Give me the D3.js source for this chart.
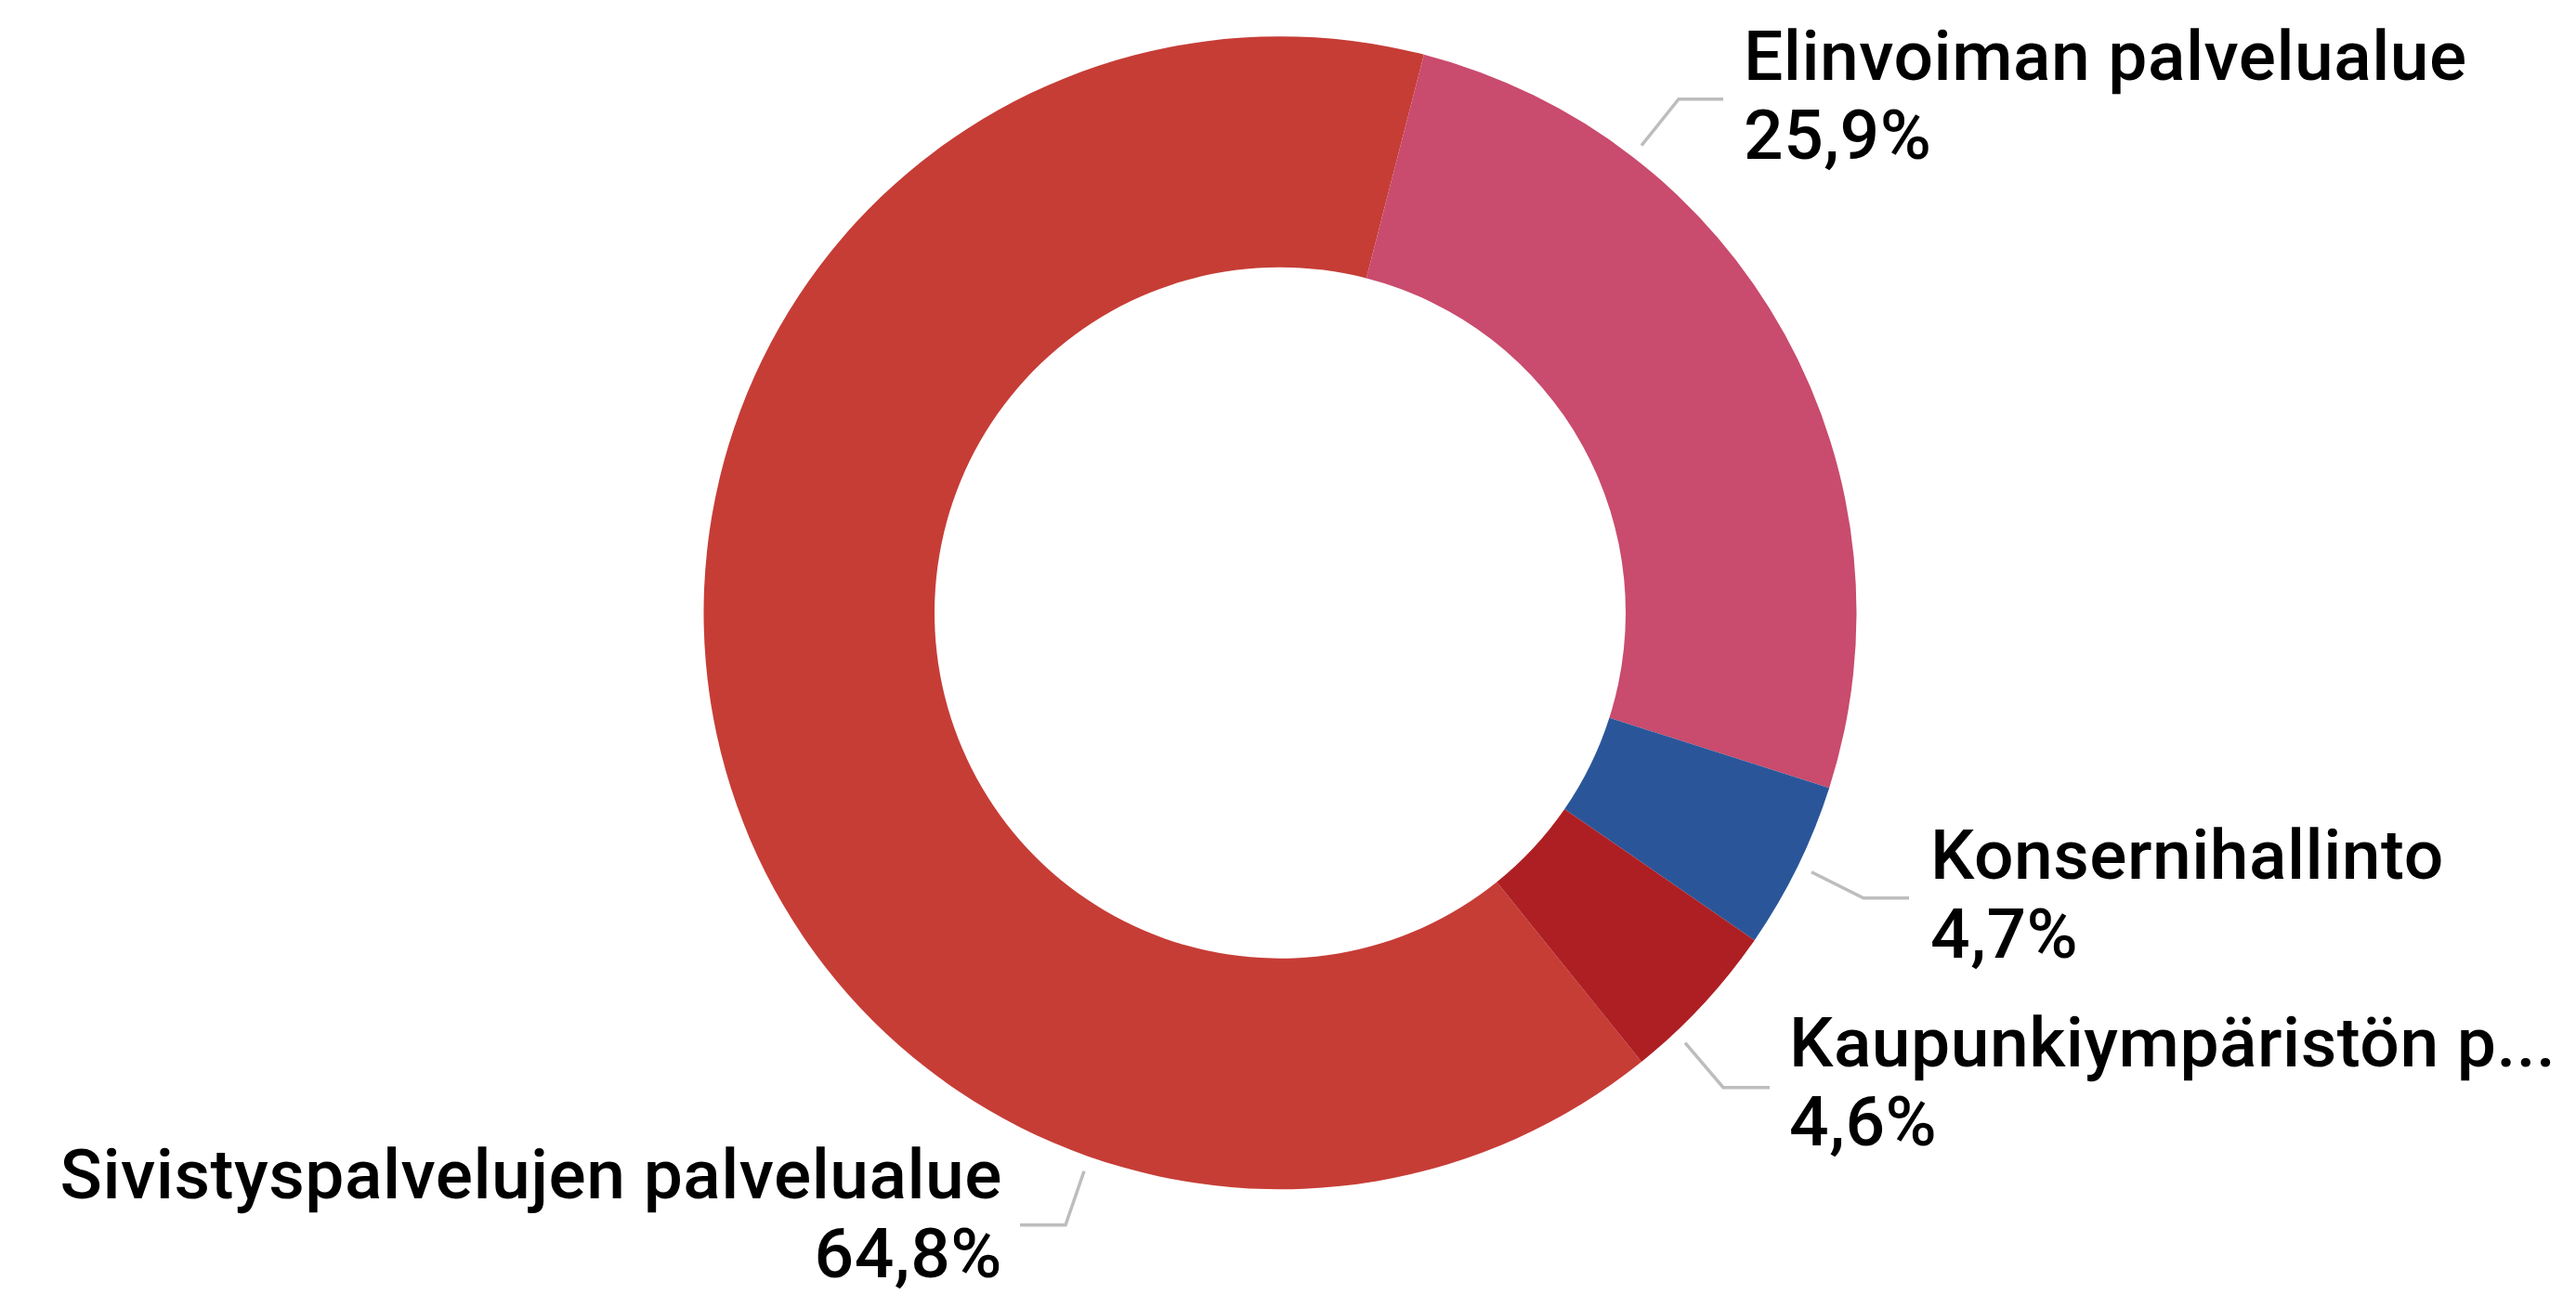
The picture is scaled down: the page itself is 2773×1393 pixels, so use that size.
<!DOCTYPE html>
<html>
<head>
<meta charset="utf-8">
<script src="https://cdn.jsdelivr.net/npm/d3@7"></script>
<style>
  html, body { margin: 0; padding: 0; background: #fff; }
  svg text { font-family: Roboto, "Liberation Sans", sans-serif; font-weight: 500; fill: #000; }
</style>
</head>
<body>
<script>
var width = 2773,
    height = 1393,
    cx = 1378,
    cy = 659.7,
    outerR = 620.5,
    innerR = 372;

// data, in the order of the source chart
var categories = ["Sivistyspalvelujen palvelualue", "Elinvoiman palvelualue", "Konsernihallinto", "Kaupunkiympäristön palvelualue"];
var shortNames = ["Sivistyspalvelujen palvelualue", "Elinvoiman palvelualue", "Konsernihallinto", "Kaupunkiympäristön p..."];
var shares = [64.8, 25.9, 4.7, 4.6];
var colors = ["#c63d36", "#c94b6d", "#2a5699", "#ae1f23"];

// label placement relative to the centre (leader points, text x, first baseline, anchor)
var labelLayout = [
  { pts: [[-211, 601], [-231, 659], [-280, 659]], tx: -299, ty: 630, anchor: "end" },
  { pts: [[389, -503], [429, -553], [477, -553]], tx: 499, ty: -574, anchor: "start" },
  { pts: [[572, 279], [628, 307], [677, 307]], tx: 700, ty: 286, anchor: "start" },
  { pts: [[436, 463], [477, 511], [527, 511]], tx: 548, ty: 488, anchor: "start" }
];

var fmt = function (v) { return v.toFixed(1).replace(".", ",") + "%"; };

var svg = d3.select("body").append("svg")
    .attr("width", width)
    .attr("height", height);

var g = svg.append("g")
    .attr("transform", "translate(" + cx + "," + cy + ")");

// Elinvoima slice starts ~14.45 deg right of 12 o'clock
var rad = Math.PI / 180;
var start = 14.45 * rad - (shares[0] / 100) * 2 * Math.PI;

var pie = d3.pie()
    .sort(null)
    .value(function (d) { return d; })
    .startAngle(start)
    .endAngle(start + 2 * Math.PI);

var arc = d3.arc()
    .innerRadius(innerR)
    .outerRadius(outerR);

g.selectAll("path.slice")
    .data(pie(shares))
    .enter().append("path")
    .attr("class", "slice")
    .attr("d", arc)
    .style("fill", function (d, i) { return colors[i]; });

var line = d3.line();

g.selectAll("path.leader")
    .data(labelLayout)
    .enter().append("path")
    .attr("class", "leader")
    .attr("d", function (d) { return line(d.pts); })
    .style("fill", "none")
    .style("stroke", "#bdbdbd")
    .style("stroke-width", 3.5);

var lab = g.selectAll("g.label")
    .data(labelLayout)
    .enter().append("g")
    .attr("class", "label");

lab.append("text")
    .attr("x", function (d) { return d.tx; })
    .attr("y", function (d) { return d.ty; })
    .attr("text-anchor", function (d) { return d.anchor; })
    .style("font-size", "75px")
    .style("letter-spacing", "0.5px")
    .text(function (d, i) { return shortNames[i]; });

lab.append("text")
    .attr("x", function (d) { return d.tx; })
    .attr("y", function (d) { return d.ty + 85; })
    .attr("text-anchor", function (d) { return d.anchor; })
    .style("font-size", "75px")
    .style("letter-spacing", "0.5px")
    .text(function (d, i) { return fmt(shares[i]); });
</script>
</body>
</html>
